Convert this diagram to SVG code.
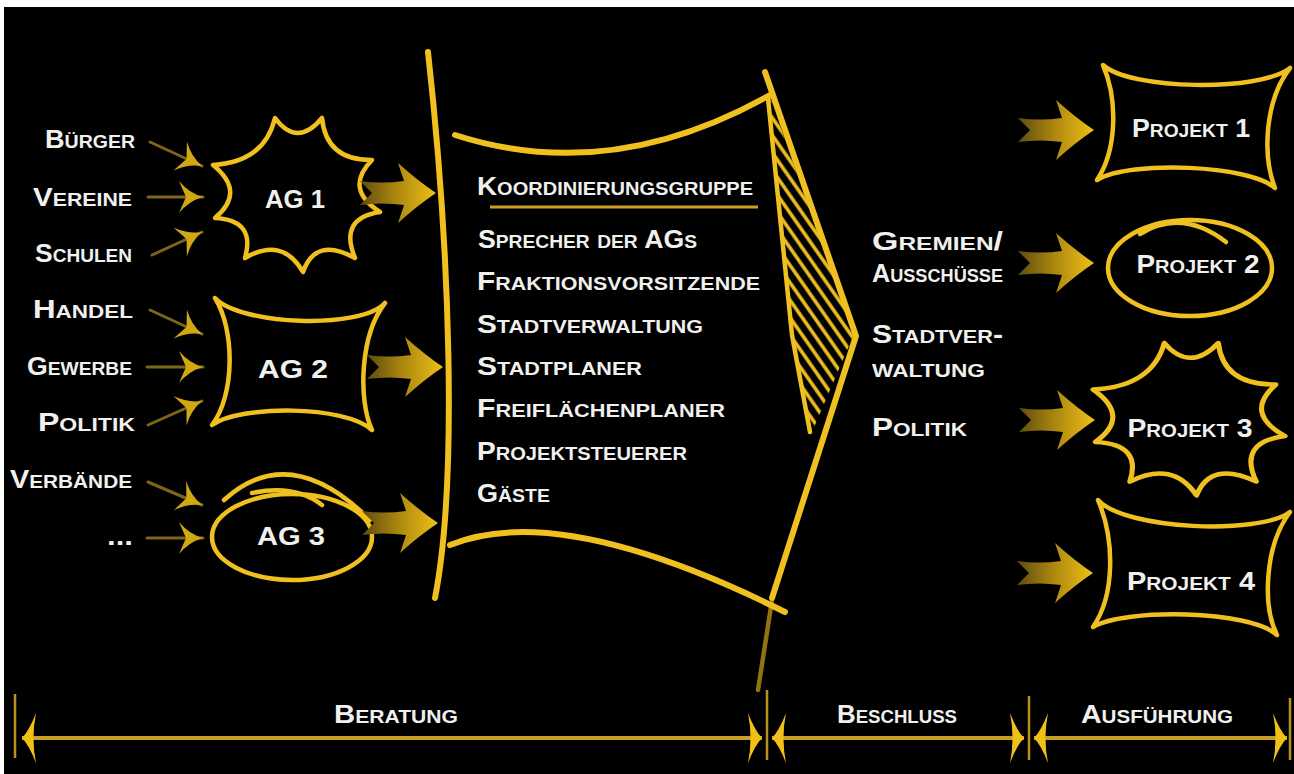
<svg xmlns="http://www.w3.org/2000/svg" xmlns:xlink="http://www.w3.org/1999/xlink" width="1294" height="774" viewBox="0 0 1294 774">
<defs>
<style>
.chalk{fill:none;stroke:#f0c020;stroke-width:4.5;stroke-linecap:round;stroke-linejoin:round}
.thick{stroke-width:6}
.t{font-family:"Liberation Sans",Arial,sans-serif;font-variant:small-caps;font-size:25px;fill:#f0f0ee;font-weight:bold}
.c{text-anchor:middle}
.small{fill:none;stroke:#7d6618;stroke-width:3;stroke-linecap:round;marker-end:url(#sm)}
.tl{fill:none;stroke:#c9a024;stroke-width:4;marker-start:url(#th);marker-end:url(#th)}
.tick{fill:none;stroke:#b8921c;stroke-width:2.5}
</style>
<linearGradient id="fatGrad" x1="0" y1="0" x2="1" y2="0">
<stop offset="0" stop-color="#5e4c10"/>
<stop offset="0.45" stop-color="#a8840e"/>
<stop offset="1" stop-color="#f0c018"/>
</linearGradient>
<marker id="sm" viewBox="0 0 24 32" refX="24" refY="16" markerWidth="24" markerHeight="32" markerUnits="userSpaceOnUse" orient="auto">
<path d="M0,0 Q10,12 24,16 Q10,20 0,32 L7,16 Z" fill="#d2a812"/>
</marker>
<marker id="th" viewBox="0 0 14 50" refX="14" refY="25" markerWidth="14" markerHeight="50" markerUnits="userSpaceOnUse" orient="auto-start-reverse">
<path d="M0,0 Q7,18 14,25 Q7,32 0,50 Q5,25 0,0 Z" fill="#f0c018"/>
</marker>
<pattern id="hatch" width="10" height="10" patternUnits="userSpaceOnUse" patternTransform="rotate(55)">
<line x1="0" y1="5" x2="10" y2="5" stroke="#f0c020" stroke-width="3.5"/>
</pattern>
<path id="fat" d="M0,-12 Q22,-9 44,-12 L38,-30 Q58,-12 76,0 Q58,12 38,30 L44,12 Q22,9 0,12 L12,0 Z" fill="url(#fatGrad)"/>
<path id="burst" d="M275,118 Q297.1,148 322,118 Q326.2,160.6 372,160 Q343.6,188.8 380,212 Q338.5,218.2 355,258 Q315.4,236.2 303,272 Q282.4,236.2 245,258 Q256,220 215,218 Q246.4,192.1 213,165 Q264.4,162.1 275,118 Z"/>
</defs>

<rect x="0" y="0" width="1294" height="774" fill="#ffffff"/>
<rect x="4" y="7" width="1290" height="767" fill="#000000"/>

<!-- input labels -->
<g id="n-buerger"><text class="t" x="45" y="148" textLength="90" lengthAdjust="spacingAndGlyphs">Bürger</text></g>
<g id="n-vereine"><text class="t" x="33" y="206" textLength="99" lengthAdjust="spacingAndGlyphs">Vereine</text></g>
<g id="n-schulen"><text class="t" x="35" y="262" textLength="97" lengthAdjust="spacingAndGlyphs">Schulen</text></g>
<g id="n-handel"><text class="t" x="33" y="318" textLength="100" lengthAdjust="spacingAndGlyphs">Handel</text></g>
<g id="n-gewerbe"><text class="t" x="27" y="375" textLength="105" lengthAdjust="spacingAndGlyphs">Gewerbe</text></g>
<g id="n-politik1"><text class="t" x="38" y="431" textLength="97" lengthAdjust="spacingAndGlyphs">Politik</text></g>
<g id="n-verbaende"><text class="t" x="10" y="488" textLength="122" lengthAdjust="spacingAndGlyphs">Verbände</text></g>
<g id="n-etc"><text class="t" x="107" y="545" textLength="26" lengthAdjust="spacingAndGlyphs">...</text></g>

<!-- AG nodes -->
<g id="n-ag1">
<use href="#burst" class="chalk"/>
<text class="t c" x="295" y="208" textLength="60" lengthAdjust="spacingAndGlyphs">AG 1</text>
</g>
<g id="n-ag2">
<path class="chalk" d="M215,298 C240,325 360,330 385,303 C360,335 358,400 372,430 C345,405 240,405 212,425 C235,395 235,330 215,298 Z"/>
<text class="t c" x="293" y="378" textLength="70" lengthAdjust="spacingAndGlyphs">AG 2</text>
</g>
<g id="n-ag3">
<ellipse class="chalk" cx="292" cy="537" rx="80" ry="43"/>
<path class="chalk" d="M224,500 Q290,440 370,520"/>
<path class="chalk" d="M252,493 Q295,484 322,505" stroke-width="3"/>
<text class="t c" x="291" y="545" textLength="68" lengthAdjust="spacingAndGlyphs">AG 3</text>
</g>

<!-- Koordinierungsgruppe -->
<g id="n-koordinierung">
<path class="chalk thick" d="M428,52 C450,250 458,480 435,598"/>
<path class="chalk thick" d="M455,135 Q610,185 770,95"/>
<path class="chalk thick" d="M450,545 Q560,500 785,612"/>
<polygon points="768,92 854,334 812,432 792,335" fill="url(#hatch)"/>
<path class="chalk" d="M768,98 L792,335 L810,432"/>
<path class="chalk thick" d="M765,72 L856,336 L772,598"/>
<path class="chalk" d="M772,600 L758,690" stroke-width="2" opacity="0.6"/>
<line x1="490" y1="207" x2="758" y2="207" stroke="#c9a024" stroke-width="3"/>
<text class="t" x="477" y="195" textLength="276" lengthAdjust="spacingAndGlyphs">Koordinierungsgruppe</text>
<text class="t" x="478" y="248" textLength="219" lengthAdjust="spacingAndGlyphs">Sprecher der AGs</text>
<text class="t" x="477" y="290" textLength="283" lengthAdjust="spacingAndGlyphs">Fraktionsvorsitzende</text>
<text class="t" x="477" y="333" textLength="226" lengthAdjust="spacingAndGlyphs">Stadtverwaltung</text>
<text class="t" x="477" y="375" textLength="165" lengthAdjust="spacingAndGlyphs">Stadtplaner</text>
<text class="t" x="477" y="417" textLength="248" lengthAdjust="spacingAndGlyphs">Freiflächenplaner</text>
<text class="t" x="477" y="460" textLength="210" lengthAdjust="spacingAndGlyphs">Projektsteuerer</text>
<text class="t" x="477" y="502" textLength="73" lengthAdjust="spacingAndGlyphs">Gäste</text>
</g>

<!-- Beschluss labels -->
<g id="n-gremien">
<text class="t" x="872" y="250" textLength="131" lengthAdjust="spacingAndGlyphs">Gremien/</text>
<text class="t" x="872" y="282" textLength="131" lengthAdjust="spacingAndGlyphs">Ausschüsse</text>
</g>
<g id="n-stadtverwaltung">
<text class="t" x="872" y="343" textLength="131" lengthAdjust="spacingAndGlyphs">Stadtver-</text>
<text class="t" x="872" y="377" textLength="113" lengthAdjust="spacingAndGlyphs">waltung</text>
</g>
<g id="n-politik2"><text class="t" x="872" y="436" textLength="95" lengthAdjust="spacingAndGlyphs">Politik</text></g>

<!-- Projekte -->
<g id="n-projekt1">
<path class="chalk" d="M1103,65 C1130,90 1260,92 1290,68 C1265,100 1262,155 1275,188 C1250,165 1130,160 1097,180 C1117,150 1118,100 1103,65 Z"/>
<text class="t c" x="1191" y="137" textLength="118" lengthAdjust="spacingAndGlyphs">Projekt 1</text>
</g>
<g id="n-projekt2">
<ellipse class="chalk" cx="1190" cy="268" rx="82" ry="48"/>
<path class="chalk" d="M1140,234 Q1182,208 1226,242" stroke-width="3"/>
<text class="t c" x="1198" y="273" textLength="123" lengthAdjust="spacingAndGlyphs">Projekt 2</text>
</g>
<g id="n-projekt3">
<use href="#burst" class="chalk" transform="translate(1093,343) scale(1.15,0.99) translate(-213,-118)"/>
<text class="t c" x="1190" y="437" textLength="125" lengthAdjust="spacingAndGlyphs">Projekt 3</text>
</g>
<g id="n-projekt4">
<path class="chalk" d="M1098,500 C1125,530 1260,535 1290,512 C1265,545 1262,605 1277,635 C1250,610 1125,608 1093,627 C1115,595 1115,540 1098,500 Z"/>
<text class="t c" x="1191" y="590" textLength="128" lengthAdjust="spacingAndGlyphs">Projekt 4</text>
</g>

<!-- phase labels -->
<g id="n-beratung"><text class="t" x="334" y="723" textLength="124" lengthAdjust="spacingAndGlyphs">Beratung</text></g>
<g id="n-beschluss"><text class="t" x="837" y="723" textLength="120" lengthAdjust="spacingAndGlyphs">Beschluss</text></g>
<g id="n-ausfuehrung"><text class="t" x="1081" y="723" textLength="152" lengthAdjust="spacingAndGlyphs">Ausführung</text></g>

<!-- connectors -->
<g id="connectors">
<line class="small" x1="150" y1="142" x2="202" y2="166"/>
<line class="small" x1="148" y1="197" x2="203" y2="197"/>
<line class="small" x1="152" y1="255" x2="202" y2="232"/>
<line class="small" x1="150" y1="310" x2="202" y2="334"/>
<line class="small" x1="147" y1="367" x2="203" y2="367"/>
<line class="small" x1="148" y1="425" x2="202" y2="401"/>
<line class="small" x1="148" y1="482" x2="202" y2="505"/>
<line class="small" x1="147" y1="538" x2="203" y2="538"/>

<use href="#fat" transform="translate(360,193)"/>
<use href="#fat" transform="translate(367,367)"/>
<use href="#fat" transform="translate(362,523)"/>
<use href="#fat" transform="translate(1018,130)"/>
<use href="#fat" transform="translate(1018,263)"/>
<use href="#fat" transform="translate(1019,420)"/>
<use href="#fat" transform="translate(1017,573)"/>

<line class="tick" x1="15" y1="694" x2="15" y2="758"/>
<line class="tick" x1="767" y1="690" x2="767" y2="760"/>
<line class="tick" x1="1029" y1="696" x2="1029" y2="760"/>
<line class="tick" x1="1290" y1="698" x2="1290" y2="760"/>
<line class="tl" x1="22" y1="738" x2="762" y2="738"/>
<line class="tl" x1="772" y1="738" x2="1024" y2="738"/>
<line class="tl" x1="1034" y1="738" x2="1287" y2="738"/>
</g>
</svg>
